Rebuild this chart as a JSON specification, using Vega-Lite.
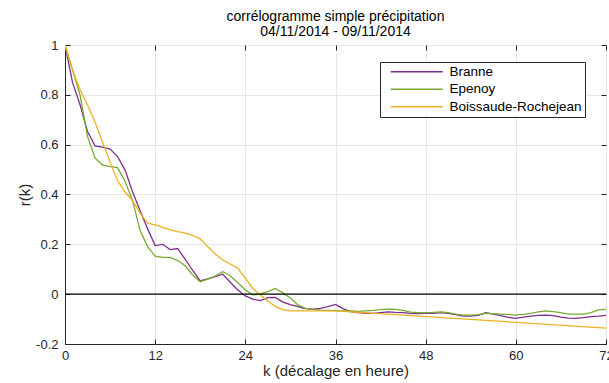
{
  "$schema": "https://vega.github.io/schema/vega-lite/v6.json",
  "width": 541,
  "height": 299,
  "autosize": "none",
  "padding": {"left": 65, "top": 45, "right": 3, "bottom": 39},
  "background": "white",
  "config": {
    "font": "Liberation Sans",
    "view": {"stroke": "#262626", "strokeWidth": 1},
    "locale": {"number": {"decimal": ".", "thousands": ",", "grouping": [3], "currency": ["$", ""], "minus": "-"}}
  },
  "title": {
    "text": ["corrélogramme simple précipitation", "04/11/2014 - 09/11/2014"],
    "fontSize": 14,
    "fontWeight": "normal",
    "font": "Liberation Sans",
    "color": "#000000",
    "anchor": "middle",
    "offset": 0,
    "lineHeight": 15
  },
  "datasets": {
    "zero": [{"y": 0}]
  },
  "data": {"values": [
    {"k":0,"r":1.0,"s":"Branne"},{"k":1,"r":0.85,"s":"Branne"},{"k":2,"r":0.76,"s":"Branne"},{"k":3,"r":0.653,"s":"Branne"},{"k":4,"r":0.595,"s":"Branne"},{"k":5,"r":0.59,"s":"Branne"},{"k":6,"r":0.582,"s":"Branne"},{"k":7,"r":0.552,"s":"Branne"},{"k":8,"r":0.498,"s":"Branne"},{"k":9,"r":0.41,"s":"Branne"},{"k":10,"r":0.335,"s":"Branne"},{"k":11,"r":0.262,"s":"Branne"},{"k":12,"r":0.195,"s":"Branne"},{"k":13,"r":0.2,"s":"Branne"},{"k":14,"r":0.179,"s":"Branne"},{"k":15,"r":0.183,"s":"Branne"},{"k":16,"r":0.14,"s":"Branne"},{"k":17,"r":0.095,"s":"Branne"},{"k":18,"r":0.053,"s":"Branne"},{"k":19,"r":0.061,"s":"Branne"},{"k":20,"r":0.07,"s":"Branne"},{"k":21,"r":0.08,"s":"Branne"},{"k":22,"r":0.048,"s":"Branne"},{"k":23,"r":0.017,"s":"Branne"},{"k":24,"r":-0.007,"s":"Branne"},{"k":25,"r":-0.02,"s":"Branne"},{"k":26,"r":-0.026,"s":"Branne"},{"k":27,"r":-0.014,"s":"Branne"},{"k":28,"r":-0.013,"s":"Branne"},{"k":29,"r":-0.032,"s":"Branne"},{"k":30,"r":-0.042,"s":"Branne"},{"k":31,"r":-0.05,"s":"Branne"},{"k":32,"r":-0.058,"s":"Branne"},{"k":33,"r":-0.06,"s":"Branne"},{"k":34,"r":-0.057,"s":"Branne"},{"k":35,"r":-0.05,"s":"Branne"},{"k":36,"r":-0.041,"s":"Branne"},{"k":37,"r":-0.058,"s":"Branne"},{"k":38,"r":-0.07,"s":"Branne"},{"k":39,"r":-0.074,"s":"Branne"},{"k":40,"r":-0.077,"s":"Branne"},{"k":41,"r":-0.077,"s":"Branne"},{"k":42,"r":-0.074,"s":"Branne"},{"k":43,"r":-0.071,"s":"Branne"},{"k":44,"r":-0.073,"s":"Branne"},{"k":45,"r":-0.074,"s":"Branne"},{"k":46,"r":-0.077,"s":"Branne"},{"k":47,"r":-0.078,"s":"Branne"},{"k":48,"r":-0.077,"s":"Branne"},{"k":49,"r":-0.077,"s":"Branne"},{"k":50,"r":-0.074,"s":"Branne"},{"k":51,"r":-0.077,"s":"Branne"},{"k":52,"r":-0.082,"s":"Branne"},{"k":53,"r":-0.088,"s":"Branne"},{"k":54,"r":-0.088,"s":"Branne"},{"k":55,"r":-0.085,"s":"Branne"},{"k":56,"r":-0.074,"s":"Branne"},{"k":57,"r":-0.08,"s":"Branne"},{"k":58,"r":-0.086,"s":"Branne"},{"k":59,"r":-0.093,"s":"Branne"},{"k":60,"r":-0.097,"s":"Branne"},{"k":61,"r":-0.092,"s":"Branne"},{"k":62,"r":-0.088,"s":"Branne"},{"k":63,"r":-0.085,"s":"Branne"},{"k":64,"r":-0.084,"s":"Branne"},{"k":65,"r":-0.086,"s":"Branne"},{"k":66,"r":-0.092,"s":"Branne"},{"k":67,"r":-0.096,"s":"Branne"},{"k":68,"r":-0.097,"s":"Branne"},{"k":69,"r":-0.094,"s":"Branne"},{"k":70,"r":-0.09,"s":"Branne"},{"k":71,"r":-0.088,"s":"Branne"},{"k":72,"r":-0.085,"s":"Branne"},
    {"k":0,"r":1.0,"s":"Epenoy"},{"k":1,"r":0.9,"s":"Epenoy"},{"k":2,"r":0.8,"s":"Epenoy"},{"k":3,"r":0.633,"s":"Epenoy"},{"k":4,"r":0.546,"s":"Epenoy"},{"k":5,"r":0.518,"s":"Epenoy"},{"k":6,"r":0.512,"s":"Epenoy"},{"k":7,"r":0.508,"s":"Epenoy"},{"k":8,"r":0.452,"s":"Epenoy"},{"k":9,"r":0.375,"s":"Epenoy"},{"k":10,"r":0.255,"s":"Epenoy"},{"k":11,"r":0.19,"s":"Epenoy"},{"k":12,"r":0.153,"s":"Epenoy"},{"k":13,"r":0.148,"s":"Epenoy"},{"k":14,"r":0.148,"s":"Epenoy"},{"k":15,"r":0.135,"s":"Epenoy"},{"k":16,"r":0.114,"s":"Epenoy"},{"k":17,"r":0.077,"s":"Epenoy"},{"k":18,"r":0.05,"s":"Epenoy"},{"k":19,"r":0.06,"s":"Epenoy"},{"k":20,"r":0.073,"s":"Epenoy"},{"k":21,"r":0.09,"s":"Epenoy"},{"k":22,"r":0.073,"s":"Epenoy"},{"k":23,"r":0.046,"s":"Epenoy"},{"k":24,"r":0.017,"s":"Epenoy"},{"k":25,"r":-0.003,"s":"Epenoy"},{"k":26,"r":0.001,"s":"Epenoy"},{"k":27,"r":0.01,"s":"Epenoy"},{"k":28,"r":0.023,"s":"Epenoy"},{"k":29,"r":0.005,"s":"Epenoy"},{"k":30,"r":-0.015,"s":"Epenoy"},{"k":31,"r":-0.043,"s":"Epenoy"},{"k":32,"r":-0.057,"s":"Epenoy"},{"k":33,"r":-0.061,"s":"Epenoy"},{"k":34,"r":-0.064,"s":"Epenoy"},{"k":35,"r":-0.065,"s":"Epenoy"},{"k":36,"r":-0.066,"s":"Epenoy"},{"k":37,"r":-0.067,"s":"Epenoy"},{"k":38,"r":-0.067,"s":"Epenoy"},{"k":39,"r":-0.069,"s":"Epenoy"},{"k":40,"r":-0.067,"s":"Epenoy"},{"k":41,"r":-0.065,"s":"Epenoy"},{"k":42,"r":-0.062,"s":"Epenoy"},{"k":43,"r":-0.06,"s":"Epenoy"},{"k":44,"r":-0.061,"s":"Epenoy"},{"k":45,"r":-0.065,"s":"Epenoy"},{"k":46,"r":-0.072,"s":"Epenoy"},{"k":47,"r":-0.074,"s":"Epenoy"},{"k":48,"r":-0.074,"s":"Epenoy"},{"k":49,"r":-0.073,"s":"Epenoy"},{"k":50,"r":-0.071,"s":"Epenoy"},{"k":51,"r":-0.074,"s":"Epenoy"},{"k":52,"r":-0.08,"s":"Epenoy"},{"k":53,"r":-0.084,"s":"Epenoy"},{"k":54,"r":-0.084,"s":"Epenoy"},{"k":55,"r":-0.082,"s":"Epenoy"},{"k":56,"r":-0.077,"s":"Epenoy"},{"k":57,"r":-0.078,"s":"Epenoy"},{"k":58,"r":-0.08,"s":"Epenoy"},{"k":59,"r":-0.082,"s":"Epenoy"},{"k":60,"r":-0.084,"s":"Epenoy"},{"k":61,"r":-0.081,"s":"Epenoy"},{"k":62,"r":-0.077,"s":"Epenoy"},{"k":63,"r":-0.071,"s":"Epenoy"},{"k":64,"r":-0.067,"s":"Epenoy"},{"k":65,"r":-0.07,"s":"Epenoy"},{"k":66,"r":-0.074,"s":"Epenoy"},{"k":67,"r":-0.08,"s":"Epenoy"},{"k":68,"r":-0.08,"s":"Epenoy"},{"k":69,"r":-0.08,"s":"Epenoy"},{"k":70,"r":-0.074,"s":"Epenoy"},{"k":71,"r":-0.063,"s":"Epenoy"},{"k":72,"r":-0.061,"s":"Epenoy"},
    {"k":0,"r":1.0,"s":"Boissaude-Rochejean"},{"k":1,"r":0.9,"s":"Boissaude-Rochejean"},{"k":2,"r":0.82,"s":"Boissaude-Rochejean"},{"k":3,"r":0.76,"s":"Boissaude-Rochejean"},{"k":4,"r":0.69,"s":"Boissaude-Rochejean"},{"k":5,"r":0.61,"s":"Boissaude-Rochejean"},{"k":6,"r":0.53,"s":"Boissaude-Rochejean"},{"k":7,"r":0.455,"s":"Boissaude-Rochejean"},{"k":8,"r":0.41,"s":"Boissaude-Rochejean"},{"k":9,"r":0.375,"s":"Boissaude-Rochejean"},{"k":10,"r":0.325,"s":"Boissaude-Rochejean"},{"k":11,"r":0.285,"s":"Boissaude-Rochejean"},{"k":12,"r":0.278,"s":"Boissaude-Rochejean"},{"k":13,"r":0.268,"s":"Boissaude-Rochejean"},{"k":14,"r":0.258,"s":"Boissaude-Rochejean"},{"k":15,"r":0.251,"s":"Boissaude-Rochejean"},{"k":16,"r":0.245,"s":"Boissaude-Rochejean"},{"k":17,"r":0.236,"s":"Boissaude-Rochejean"},{"k":18,"r":0.222,"s":"Boissaude-Rochejean"},{"k":19,"r":0.19,"s":"Boissaude-Rochejean"},{"k":20,"r":0.161,"s":"Boissaude-Rochejean"},{"k":21,"r":0.137,"s":"Boissaude-Rochejean"},{"k":22,"r":0.121,"s":"Boissaude-Rochejean"},{"k":23,"r":0.104,"s":"Boissaude-Rochejean"},{"k":24,"r":0.064,"s":"Boissaude-Rochejean"},{"k":25,"r":0.023,"s":"Boissaude-Rochejean"},{"k":26,"r":-0.003,"s":"Boissaude-Rochejean"},{"k":27,"r":-0.027,"s":"Boissaude-Rochejean"},{"k":28,"r":-0.05,"s":"Boissaude-Rochejean"},{"k":29,"r":-0.062,"s":"Boissaude-Rochejean"},{"k":30,"r":-0.067,"s":"Boissaude-Rochejean"},{"k":36,"r":-0.067,"s":"Boissaude-Rochejean"},{"k":72,"r":-0.136,"s":"Boissaude-Rochejean"}
  ]},
  "resolve": {"axis": {"x": "independent", "y": "independent"}},
  "layer": [
    {
      "mark": {"type": "line", "strokeWidth": 1.3, "clip": true},
      "encoding": {
        "x": {
          "field": "k", "type": "quantitative",
          "scale": {"domain": [0, 72], "nice": false, "zero": false},
          "axis": {
            "values": [0, 12, 24, 36, 48, 60, 72],
            "title": "k (décalage en heure)",
            "titleFontSize": 15, "titleFontWeight": "normal", "titleColor": "#262626",
            "titlePadding": 1,
            "labelFontSize": 13, "labelColor": "#262626", "labelPadding": 10,
            "domainColor": "#262626", "tickColor": "#262626", "tickSize": -5,
            "grid": true, "gridColor": "#e6e6e6", "labelFlush": false
          }
        },
        "y": {
          "field": "r", "type": "quantitative",
          "scale": {"domain": [-0.2, 1], "nice": false, "zero": false},
          "axis": {
            "values": [-0.2, 0, 0.2, 0.4, 0.6, 0.8, 1],
            "format": "~g",
            "title": "r(k)",
            "titleFontSize": 15, "titleFontWeight": "normal", "titleColor": "#262626",
            "titlePadding": 3,
            "labelFontSize": 13, "labelColor": "#262626", "labelPadding": 12,
            "domainColor": "#262626", "tickColor": "#262626", "tickSize": -5,
            "grid": true, "gridColor": "#e6e6e6", "labelFlush": false
          }
        },
        "color": {
          "field": "s", "type": "nominal", "sort": null,
          "scale": {"domain": ["Branne", "Epenoy", "Boissaude-Rochejean"], "range": ["#7E2F8E", "#77AC30", "#EDB120"]},
          "legend": {
            "title": null, "orient": "none", "legendX": 315, "legendY": 17,
            "symbolType": "M0.2,0H10.6", "symbolSize": 100, "symbolStrokeWidth": 1.3,
            "labelFontSize": 13.5, "labelColor": "#000000", "labelFont": "Liberation Sans",
            "strokeColor": "#262626", "fillColor": "white", "padding": 3,
            "rowPadding": 2.5, "labelOffset": 53, "labelLimit": 300
          }
        }
      }
    },
    {
      "mark": {"type": "line", "strokeOpacity": 0},
      "encoding": {
        "x": {
          "field": "k", "type": "quantitative",
          "axis": {"orient": "top", "values": [0, 12, 24, 36, 48, 60, 72], "labels": false, "title": null, "domain": false, "grid": false, "tickColor": "#262626", "tickSize": -5}
        },
        "y": {
          "field": "r", "type": "quantitative",
          "axis": {"orient": "right", "values": [-0.2, 0, 0.2, 0.4, 0.6, 0.8, 1], "labels": false, "title": null, "domain": false, "grid": false, "tickColor": "#262626", "tickSize": -5}
        },
        "detail": {"field": "s", "type": "nominal"}
      }
    },
    {
      "data": {"name": "zero"},
      "mark": {"type": "rule", "color": "#000000", "strokeWidth": 1.3},
      "encoding": {"y": {"field": "y", "type": "quantitative", "axis": null}}
    }
  ]
}
